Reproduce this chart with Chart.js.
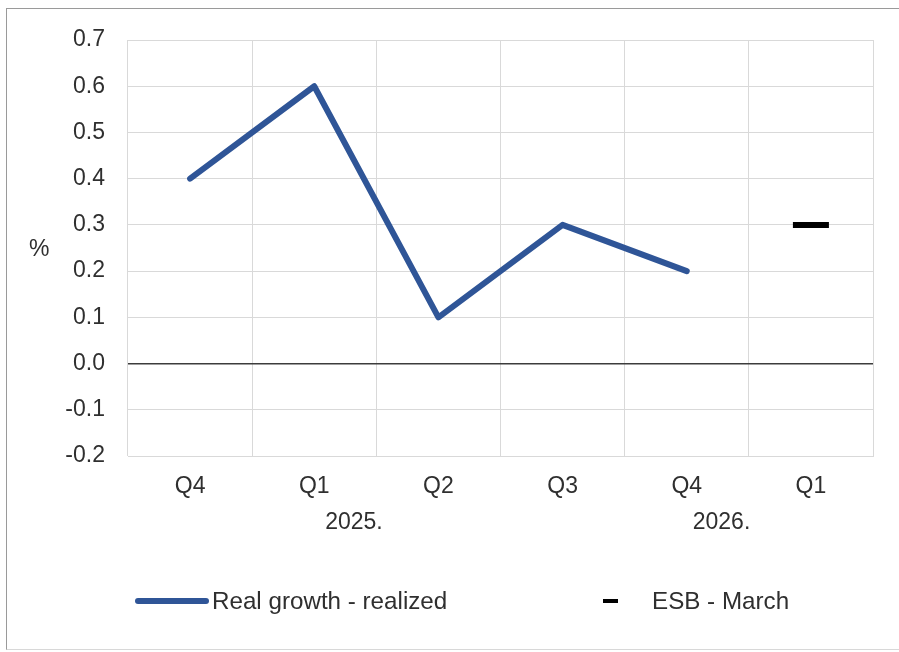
<!DOCTYPE html>
<html>
<head>
<meta charset="utf-8">
<script src="https://cdn.jsdelivr.net/npm/chart.js@4/dist/chart.umd.min.js"></script>
<style>
  html, body { margin: 0; padding: 0; background: #fff; }
  #wrap { position: relative; width: 899px; height: 652px; overflow: hidden; font-family: "Liberation Sans", Arial, sans-serif; color: #333; }
  #frame { position: absolute; left: 6px; top: 8px; width: 900px; height: 642px; border-left: 1px solid #9a9a9a; border-top: 1px solid #9a9a9a; border-bottom: 1px solid #d8d8d8; box-sizing: border-box; pointer-events: none; }
  canvas { position: absolute; left: 0; top: 0; }
  .txt { position: absolute; font-size: 23px; line-height: 1; white-space: nowrap; color: #2f2f2f; }
  .lg-line { position: absolute; }
</style>
</head>
<body>
<div id="wrap">
  <canvas id="c" width="899" height="652"></canvas>
  <div id="frame"></div>
  <div class="txt" id="pct" style="left:29px; top:237px;">%</div>
  <div class="lg-line" style="left:135px; top:598px; width:74px; height:6px; border-radius:3px; background:#2F5597;"></div>
  <div class="txt" id="lg1" style="left:212px; top:589px; font-size:24.2px;"></div>
  <div class="lg-line" style="left:603px; top:599px; width:15px; height:4px; background:#000;"></div>
  <div class="txt" id="lg2" style="left:652px; top:589px; font-size:24.2px;"></div>
</div>
<script>
const categories = ['Q4', 'Q1', 'Q2', 'Q3', 'Q4', 'Q1'];
const yearLabels = ['2025.', '2026.'];
const yearPositions = [1.32, 4.28]; // category-index positions of the year labels
const realGrowth = [0.4, 0.6, 0.1, 0.3, 0.2, null];
const esbMarch = [null, null, null, null, null, 0.3];
const seriesNames = ['Real growth - realized', 'ESB - March'];
const yTicks = [-0.2, -0.1, 0.0, 0.1, 0.2, 0.3, 0.4, 0.5, 0.6, 0.7];

document.getElementById('lg1').textContent = seriesNames[0];
document.getElementById('lg2').textContent = seriesNames[1];

const FONT = { family: '"Liberation Sans", Arial, sans-serif', size: 23 };

new Chart(document.getElementById('c'), {
  type: 'line',
  data: {
    labels: categories,
    datasets: [
      {
        label: seriesNames[0],
        data: realGrowth,
        borderColor: '#2F5597',
        backgroundColor: '#2F5597',
        borderWidth: 6,
        borderCapStyle: 'round',
        borderJoinStyle: 'round',
        pointRadius: 0,
        tension: 0,
        spanGaps: false
      },
      {
        label: seriesNames[1],
        data: esbMarch,
        showLine: false,
        pointStyle: 'line',
        pointRadius: 18,
        pointHoverRadius: 18,
        pointBorderWidth: 6,
        borderColor: '#000',
        backgroundColor: '#000',
        pointBorderColor: '#000'
      }
    ]
  },
  options: {
    responsive: false,
    animation: false,
    devicePixelRatio: 1,
    layout: { padding: { left: 0, right: 26, top: 40, bottom: 104 } },
    plugins: { legend: { display: false }, tooltip: { enabled: false } },
    scales: {
      x: {
        type: 'category',
        position: 'bottom',
        weight: 0,
        offset: true,
        grid: { offset: true, color: '#d9d9d9', lineWidth: 1, drawTicks: false },
        border: { display: true, color: '#d9d9d9', width: 1 },
        ticks: { color: '#2f2f2f', font: FONT, padding: 17, maxRotation: 0, autoSkip: false },
        afterFit: (s) => { s.height = 48; }
      },
      xYear: {
        type: 'linear',
        position: 'bottom',
        weight: 1,
        min: -0.5,
        max: 5.5,
        grid: { display: false, drawTicks: false },
        border: { display: false },
        afterBuildTicks: (s) => { s.ticks = yearPositions.map(v => ({ value: v })); },
        ticks: {
          color: '#2f2f2f', font: FONT, padding: 5, maxRotation: 0, autoSkip: false,
          callback: (v) => { const i = yearPositions.indexOf(v); return i >= 0 ? yearLabels[i] : ''; }
        },
        afterFit: (s) => { s.height = 44; }
      },
      y: {
        min: -0.2,
        max: 0.7,
        afterBuildTicks: (s) => { s.ticks = yTicks.map(v => ({ value: v })); },
        grid: {
          drawTicks: false,
          color: (ctx) => (ctx.tick && Math.abs(ctx.tick.value) < 1e-9) ? '#3c3c3c' : '#d9d9d9',
          lineWidth: (ctx) => (ctx.tick && Math.abs(ctx.tick.value) < 1e-9) ? 1.6 : 1
        },
        border: { display: false },
        ticks: {
          color: '#2f2f2f', font: FONT, padding: 23,
          callback: (v) => Number(v).toFixed(1)
        },
        afterFit: (s) => { s.width = 128; }
      }
    }
  }
});
</script>
</body>
</html>
